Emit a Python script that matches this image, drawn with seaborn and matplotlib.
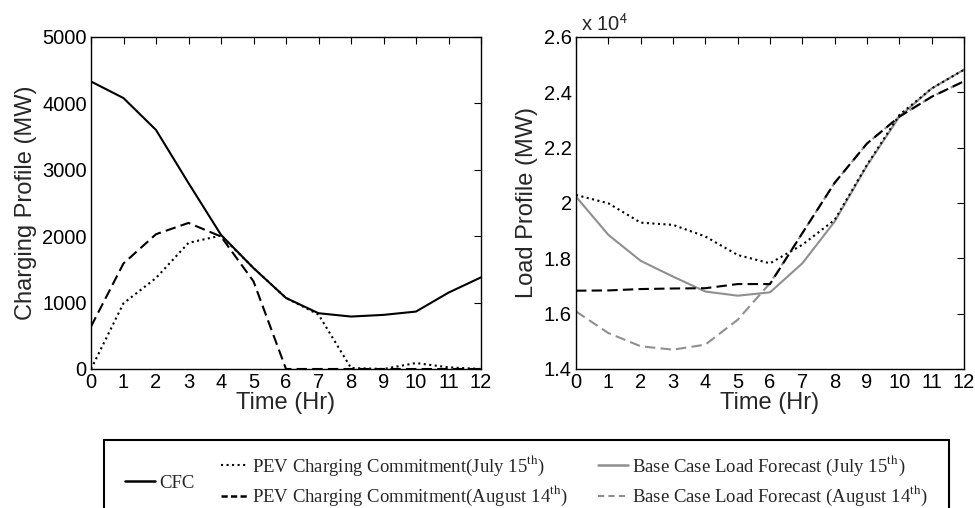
import matplotlib
matplotlib.use("Agg")
import matplotlib.pyplot as plt
import matplotlib.patches as patches
from matplotlib.lines import Line2D
from matplotlib.ticker import FuncFormatter
import seaborn as sns
import pandas as pd

# data
hours = list(range(13))
cfc = [4330, 4080, 3600, 2800, 2020, 1520, 1070, 840, 790, 815, 865, 1150, 1380]
pev_jul = [0, 990, 1370, 1900, 2010, 1520, 1070, 820, 15, 0, 90, 25, 0]
pev_aug = [640, 1590, 2030, 2200, 1995, 1320, 0, 0, 0, 0, 0, 0, 0]

load_jul = [20290, 19990, 19290, 19210, 18790, 18120, 17820, 18490, 19390, 21380, 23180, 24140, 24820]
load_aug = [16830, 16840, 16890, 16910, 16920, 17070, 17070, 18910, 20730, 22150, 23120, 23840, 24400]
base_jul = [20230, 18850, 17910, 17340, 16800, 16650, 16770, 17820, 19330, 21350, 23120, 24140, 24820]
base_aug = [16080, 15300, 14820, 14700, 14880, 15780, 17100, 18910, 20730, 22150, 23120, 23840, 24400]

left_df = pd.DataFrame({"hour": hours, "cfc": cfc, "pev_jul": pev_jul, "pev_aug": pev_aug})
right_df = pd.DataFrame({"hour": hours, "load_jul": load_jul, "load_aug": load_aug,
                         "base_jul": base_jul, "base_aug": base_aug})

sns.set_style("white")
plt.rcParams["font.family"] = ["Liberation Sans", "DejaVu Sans"]
plt.rcParams["mathtext.fontset"] = "stix"

fig = plt.figure(figsize=(9.75, 5.08), dpi=100)
ax1 = fig.add_axes([91 / 975, 1 - 369 / 508, 390 / 975, 332 / 508])
ax2 = fig.add_axes([576 / 975, 1 - 369 / 508, 388 / 975, 332 / 508])

dash = (5, 2.5)
gray = "#8f8f8f"

# left panel: charging profiles
sns.lineplot(data=left_df, x="hour", y="pev_aug", ax=ax1, color="black", lw=1.5)
ax1.lines[-1].set_dashes(dash)
sns.lineplot(data=left_df, x="hour", y="pev_jul", ax=ax1, color="black", lw=1.5, linestyle=":")
sns.lineplot(data=left_df, x="hour", y="cfc", ax=ax1, color="black", lw=1.5)

# right panel: load profiles
sns.lineplot(data=right_df, x="hour", y="base_aug", ax=ax2, color=gray, lw=1.5)
ax2.lines[-1].set_dashes(dash)
sns.lineplot(data=right_df, x="hour", y="base_jul", ax=ax2, color=gray, lw=1.5)
sns.lineplot(data=right_df, x="hour", y="load_aug", ax=ax2, color="black", lw=1.5)
ax2.lines[-1].set_dashes(dash)
sns.lineplot(data=right_df, x="hour", y="load_jul", ax=ax2, color="black", lw=1.5, linestyle=":")

for ax in (ax1, ax2):
    ax.set_xlim(0, 12)
    ax.set_xticks(hours)
    ax.set_xlabel("Time (Hr)", fontsize=17, labelpad=0)
    ax.tick_params(direction="in", length=5, width=0.8, top=True, right=True,
                   labelsize=14.5, pad=3, colors="black")
    for s in ax.spines.values():
        s.set_color("black")
        s.set_linewidth(1.0)

ax1.set_ylim(0, 5000)
ax1.set_yticks([0, 1000, 2000, 3000, 4000, 5000])
ax1.set_ylabel("Charging Profile (MW)", fontsize=17, labelpad=4)

ax2.set_ylim(14000, 26000)
ax2.set_yticks([14000, 16000, 18000, 20000, 22000, 24000, 26000])
ax2.yaxis.set_major_formatter(FuncFormatter(lambda v, p: f"{v / 1e4:g}"))
ax2.set_ylabel("Load Profile (MW)", fontsize=17, labelpad=4)
ax2.text(0.012, 1.005, r"x 10$^{\mathsf{4}}$", transform=ax2.transAxes,
         fontsize=14.5, ha="left", va="bottom")

# legend box
box = patches.Rectangle((104 / 975, -0.05), 845 / 975, 0.05 + 1 - 440 / 508,
                        transform=fig.transFigure, fill=False, edgecolor="black",
                        lw=1.5, clip_on=False)
fig.patches.append(box)

lprop = {"family": "Liberation Serif", "size": 13.5}
h_cfc = [Line2D([], [], color="black", lw=1.8)]
h_pev = [Line2D([], [], color="black", lw=1.5, linestyle=":"),
         Line2D([], [], color="black", lw=1.8, dashes=(2.5, 1.3))]
h_base = [Line2D([], [], color=gray, lw=1.8),
          Line2D([], [], color=gray, lw=1.5, dashes=(3, 2))]

leg1 = fig.legend(h_cfc, ["CFC"], loc="center left", bbox_to_anchor=(125 / 975, 1 - 483 / 508),
                  frameon=False, prop=lprop, handlelength=1.6, handletextpad=0.25, borderpad=0,
                  borderaxespad=0)
leg2 = fig.legend(h_pev, [r"PEV Charging Commitment(July 15$^{\rm th}$)",
                          r"PEV Charging Commitment(August 14$^{\rm th}$)"],
                  loc="center left", bbox_to_anchor=(221 / 975, 1 - 481 / 508), frameon=False,
                  prop=lprop, handlelength=1.4, handletextpad=0.25, labelspacing=0.35,
                  borderpad=0, borderaxespad=0)
leg3 = fig.legend(h_base, [r"Base Case Load Forecast (July 15$^{\rm th}$)",
                           r"Base Case Load Forecast (August 14$^{\rm th}$)"],
                  loc="center left", bbox_to_anchor=(598 / 975, 1 - 481 / 508), frameon=False,
                  prop=lprop, handlelength=1.6, handletextpad=0.2, labelspacing=0.35,
                  borderpad=0, borderaxespad=0)

fig.savefig("out.png", dpi=100)
